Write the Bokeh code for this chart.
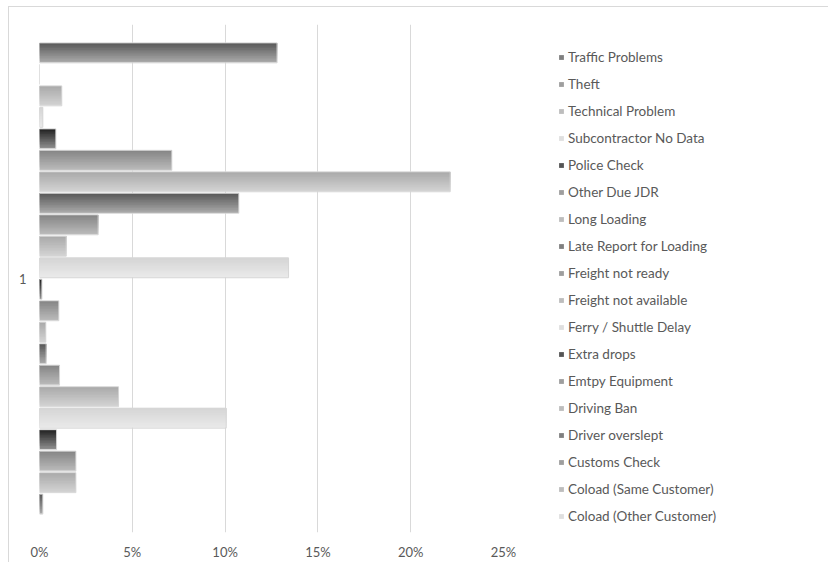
import numpy as np
from bokeh.plotting import figure
from bokeh.layouts import column
from bokeh.models import (Range1d, FixedTicker, NumeralTickFormatter, Legend,
                          LegendItem, ColumnDataSource)
from bokeh.embed import file_html
from bokeh.resources import INLINE

# Delay reasons as listed in the legend (top to bottom)
reasons = [
    "Traffic Problems", "Theft", "Technical Problem", "Subcontractor No Data",
    "Police Check", "Other Due JDR", "Long Loading", "Late Report for Loading",
    "Freight not ready", "Freight not available", "Ferry / Shuttle Delay",
    "Extra drops", "Emtpy Equipment", "Driving Ban", "Driver overslept",
    "Customs Check", "Coload (Same Customer)", "Coload (Other Customer)",
]

# Share of delays per series in %, top bar first
# (the last four series do not fit into the legend)
shares = [12.8, 0.0, 1.2, 0.18, 0.88, 7.13, 22.13, 10.74, 3.16, 1.44, 13.42,
          0.13, 1.04, 0.34, 0.36, 1.08, 4.26, 10.06, 0.92, 1.96, 1.96, 0.18]

category = "1"
x_ticks = [0, 5, 10, 15, 20, 25]

# Monochrome palette: shade cycle and gradient end colours (top, bottom)
shade_cycle = ["dark", "medium", "light", "pale", "black", "medium", "light"]
shade_top = {"dark": "#5c5c5c", "medium": "#878787", "light": "#ababab",
             "pale": "#d6d6d6", "black": "#262626"}
shade_bottom = {"dark": "#a8a8a8", "medium": "#b9b9b9", "light": "#d2d2d2",
                "pale": "#e9e9e9", "black": "#8c8c8c"}

FONT = "Lato"
TEXT = "#595959"
GRID = "#d9d9d9"


def hex_rgb(h):
    return np.array([int(h[i:i + 2], 16) for i in (1, 3, 5)], dtype=float)


def mix(c_bottom, c_top, t):
    c = hex_rgb(c_bottom) * (1 - t) + hex_rgb(c_top) * t
    return "#%02x%02x%02x" % tuple(int(round(v)) for v in c)


n = len(shares)
slot = np.arange(n)
values = np.array(shares) / 100.0
shades = [shade_cycle[k % len(shade_cycle)] for k in range(n)]

# chart area is framed by a thin border 8px from the left and 6px from the top
OFF_X, OFF_Y = 9, 7

p = figure(frame_width=464, frame_height=508,
           x_range=Range1d(0, 0.25), y_range=Range1d(22.32, -1.32),
           min_border_left=39 - OFF_X, min_border_right=325,
           min_border_top=24 - OFF_Y, min_border_bottom=33 - OFF_Y,
           output_backend="svg", toolbar_location=None)
p.outline_line_color = None
p.background_fill_color = "white"
p.border_fill_color = "white"

# Axes
p.xaxis.ticker = FixedTicker(ticks=[t / 100 for t in x_ticks])
p.xaxis.formatter = NumeralTickFormatter(format="0%")
p.yaxis.ticker = FixedTicker(ticks=[(n - 1) / 2])
p.yaxis.major_label_overrides = {(n - 1) / 2: category}
for ax in (p.xaxis, p.yaxis):
    ax.axis_line_color = None
    ax.major_tick_line_color = None
    ax.minor_tick_line_color = None
    ax.major_label_text_font = FONT
    ax.major_label_text_font_size = "13px"
    ax.major_label_text_color = TEXT
p.xaxis.major_label_standoff = 5
p.yaxis.major_label_standoff = 7
p.xgrid.grid_line_color = GRID
p.ygrid.grid_line_color = None

# Bars: vertical gradient built from stacked curtains hanging from the bar top
BAR_H = 0.9
steps = 12
mid_renderer = None
mid_step = steps // 2
for j in range(steps):
    f = 1 - j / steps
    t = j / (steps - 1)
    src = ColumnDataSource(dict(
        y=slot - BAR_H / 2 + BAR_H * f / 2,
        right=values,
        color=[mix(shade_bottom[s], shade_top[s], t) for s in shades],
    ))
    r = p.hbar(y="y", left=0, right="right", height=BAR_H * f, source=src,
               fill_color="color", line_color=None)
    if j == mid_step:
        mid_renderer = r

# thin light border around every bar
p.hbar(y=slot, left=0, right=values, height=BAR_H + 0.03,
       fill_color=None, line_color="#d6d6d6", line_width=1)

# Legend on the right of the plot area
items = [LegendItem(label=name, renderers=[mid_renderer], index=i)
         for i, name in enumerate(reasons)]
legend = Legend(items=items, location=(55, 8), orientation="vertical",
                glyph_width=6, glyph_height=6, label_height=14, spacing=11,
                label_standoff=4, padding=0, margin=0,
                label_text_font=FONT, label_text_font_size="13.5px",
                label_text_color=TEXT, border_line_color=None,
                background_fill_alpha=0)
p.add_layout(legend, "right")

page = column(p, margin=(6, 0, 0, 8),
              styles={"border-left": f"1px solid {GRID}",
                      "border-top": f"1px solid {GRID}"})

open("out.html", "w").write(file_html(page, INLINE))
